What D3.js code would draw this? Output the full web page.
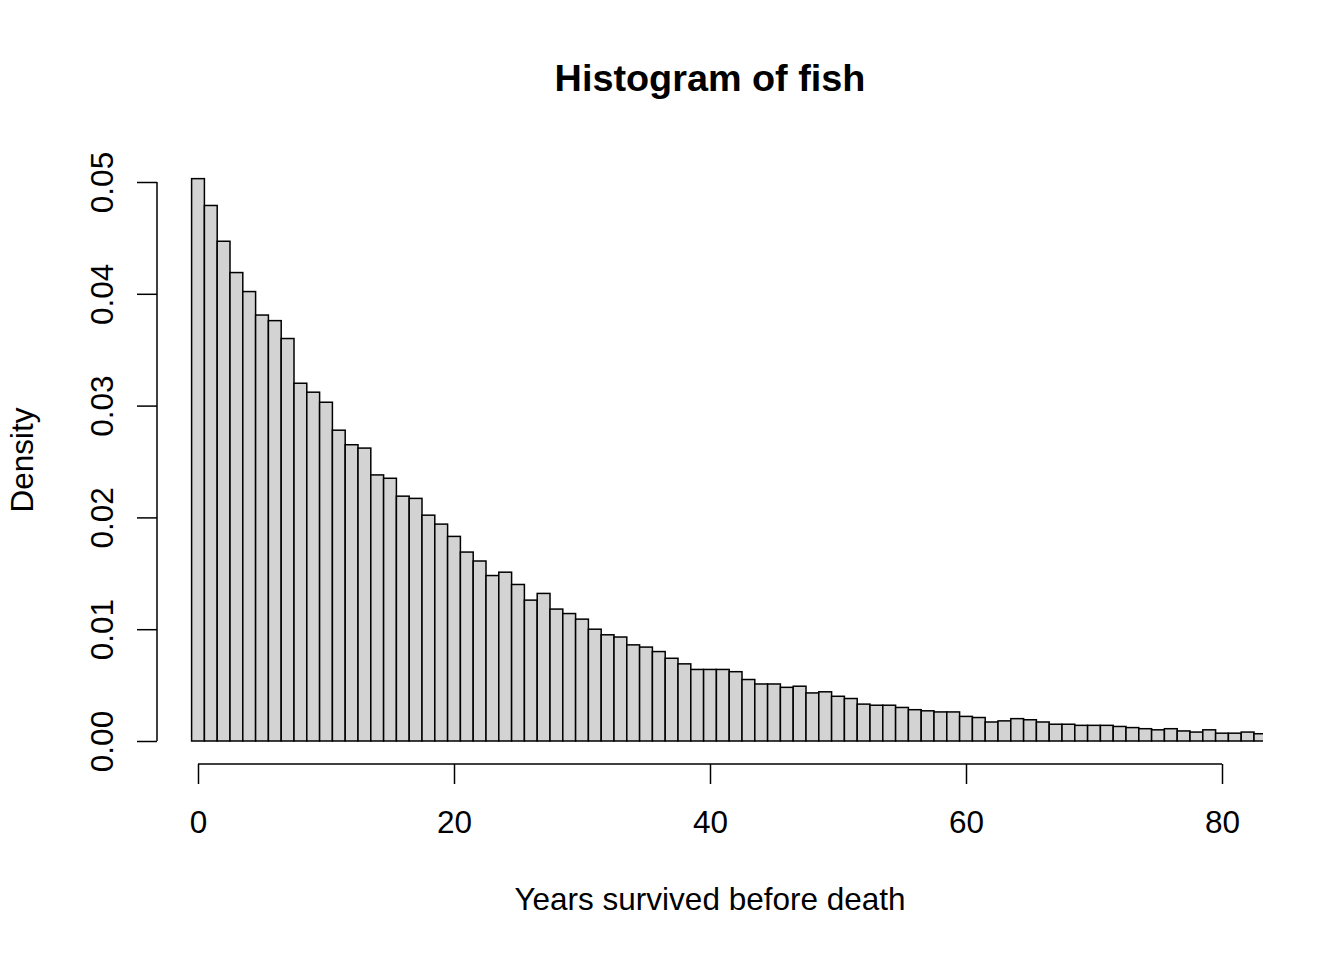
<!DOCTYPE html>
<html>
<head>
<meta charset="utf-8">
<script src="https://cdn.jsdelivr.net/npm/d3@7"></script>
<style>
  html, body { margin: 0; padding: 0; background: #ffffff; }
  svg { display: block; }
  text { font-family: "Liberation Sans", Arial, sans-serif; fill: #000; }
</style>
</head>
<body>
<svg id="chart" width="1344" height="960"></svg>
<script>
// Bin midpoints (years), bin width 1
const ages = [
  0, 1, 2, 3, 4, 5, 6, 7, 8, 9,
  10, 11, 12, 13, 14, 15, 16, 17, 18, 19,
  20, 21, 22, 23, 24, 25, 26, 27, 28, 29,
  30, 31, 32, 33, 34, 35, 36, 37, 38, 39,
  40, 41, 42, 43, 44, 45, 46, 47, 48, 49,
  50, 51, 52, 53, 54, 55, 56, 57, 58, 59,
  60, 61, 62, 63, 64, 65, 66, 67, 68, 69,
  70, 71, 72, 73, 74, 75, 76, 77, 78, 79,
  80, 81, 82, 83
];
const binWidth = 1;

// Density per bin
const densities = [
  0.0503, 0.0479, 0.0447, 0.0419, 0.0402, 0.0381, 0.0376, 0.0360, 0.0320, 0.0312,
  0.0303, 0.0278, 0.0265, 0.0262, 0.0238, 0.0235, 0.0219, 0.0217, 0.0202, 0.0194,
  0.0183, 0.0169, 0.0161, 0.0148, 0.0151, 0.0140, 0.0126, 0.0132, 0.0118, 0.0114,
  0.0109, 0.0100, 0.0095, 0.0093, 0.0086, 0.0084, 0.0080, 0.0074, 0.0069, 0.0064,
  0.0064, 0.0064, 0.0062, 0.0055, 0.0051, 0.0051, 0.0048, 0.0049, 0.0043, 0.0044,
  0.0040, 0.0038, 0.0033, 0.0032, 0.0032, 0.0030, 0.0028, 0.0027, 0.0026, 0.0026,
  0.0022, 0.0021, 0.0017, 0.0018, 0.0020, 0.0019, 0.0017, 0.0015, 0.0015, 0.0014,
  0.0014, 0.0014, 0.0013, 0.0012, 0.0011, 0.0010, 0.0011, 0.0009, 0.0008, 0.0010,
  0.0007, 0.0007, 0.0008, 0.00065
];

const xTicks = [0, 20, 40, 60, 80];
const yTicks = [0, 0.01, 0.02, 0.03, 0.04, 0.05];
const titleText = "Histogram of fish";
const xLabel = "Years survived before death";
const yLabel = "Density";

const svg = d3.select("#chart");
const FS = 31.5;

// Plot region (R style: xlim 0..80 extended by 4%)
const plotLeft = 157, plotRight = 1263, plotTop = 156, plotBottom = 764;

const x = d3.scaleLinear().domain([0, 80]).range([198, 1222]);
const y = d3.scaleLinear().domain([0, 0.05]).range([741, 182]);

svg.append("defs").append("clipPath").attr("id", "plotclip")
  .append("rect")
  .attr("x", plotLeft).attr("y", plotTop)
  .attr("width", plotRight - plotLeft).attr("height", plotBottom - plotTop);

const bins = ages.map((a, i) => ({ x0: a - binWidth / 2, x1: a + binWidth / 2, d: densities[i] }));

svg.append("g").attr("clip-path", "url(#plotclip)")
  .selectAll("rect").data(bins).join("rect")
  .attr("x", d => x(d.x0))
  .attr("y", d => y(d.d))
  .attr("width", d => x(d.x1) - x(d.x0))
  .attr("height", d => y(0) - y(d.d))
  .attr("fill", "#d3d3d3")
  .attr("stroke", "#000")
  .attr("stroke-width", 1.5);

// X axis
const xAxis = svg.append("g").attr("transform", `translate(0,${plotBottom})`)
  .call(d3.axisBottom(x).tickValues(xTicks).tickSize(20).tickSizeOuter(0).tickFormat(d3.format("d")));
xAxis.select(".domain").remove();
xAxis.append("line")
  .attr("x1", x(xTicks[0])).attr("x2", x(xTicks[xTicks.length - 1]))
  .attr("y1", 0).attr("y2", 0)
  .attr("stroke", "#000").attr("stroke-width", 1.5);
xAxis.selectAll(".tick line").attr("stroke", "#000").attr("stroke-width", 1.5);
xAxis.selectAll(".tick text")
  .attr("y", 69).attr("dy", null)
  .attr("font-size", FS)
  .attr("font-family", "Liberation Sans, Arial, sans-serif")
  .attr("fill", "#000");

// Y axis
const yAxis = svg.append("g").attr("transform", `translate(${plotLeft},0)`)
  .call(d3.axisLeft(y).tickValues(yTicks).tickSize(20).tickSizeOuter(0).tickFormat(d3.format(".2f")));
yAxis.select(".domain").remove();
yAxis.append("line")
  .attr("x1", 0).attr("x2", 0)
  .attr("y1", y(yTicks[0])).attr("y2", y(yTicks[yTicks.length - 1]))
  .attr("stroke", "#000").attr("stroke-width", 1.5);
yAxis.selectAll(".tick line").attr("stroke", "#000").attr("stroke-width", 1.5);
yAxis.selectAll(".tick text")
  .attr("x", null).attr("dy", null)
  .attr("transform", "translate(-44,0) rotate(-90)")
  .attr("text-anchor", "middle")
  .attr("font-size", FS)
  .attr("font-family", "Liberation Sans, Arial, sans-serif")
  .attr("fill", "#000");

// Title
svg.append("text")
  .attr("x", (plotLeft + plotRight) / 2).attr("y", 91)
  .attr("text-anchor", "middle")
  .attr("font-size", FS * 1.2).attr("font-weight", "bold")
  .text(titleText);

// X label
svg.append("text")
  .attr("x", (plotLeft + plotRight) / 2).attr("y", 910)
  .attr("text-anchor", "middle")
  .attr("font-size", FS)
  .text(xLabel);

// Y label
svg.append("text")
  .attr("transform", `translate(33,${(plotTop + plotBottom) / 2}) rotate(-90)`)
  .attr("text-anchor", "middle")
  .attr("font-size", FS)
  .text(yLabel);
</script>
</body>
</html>
